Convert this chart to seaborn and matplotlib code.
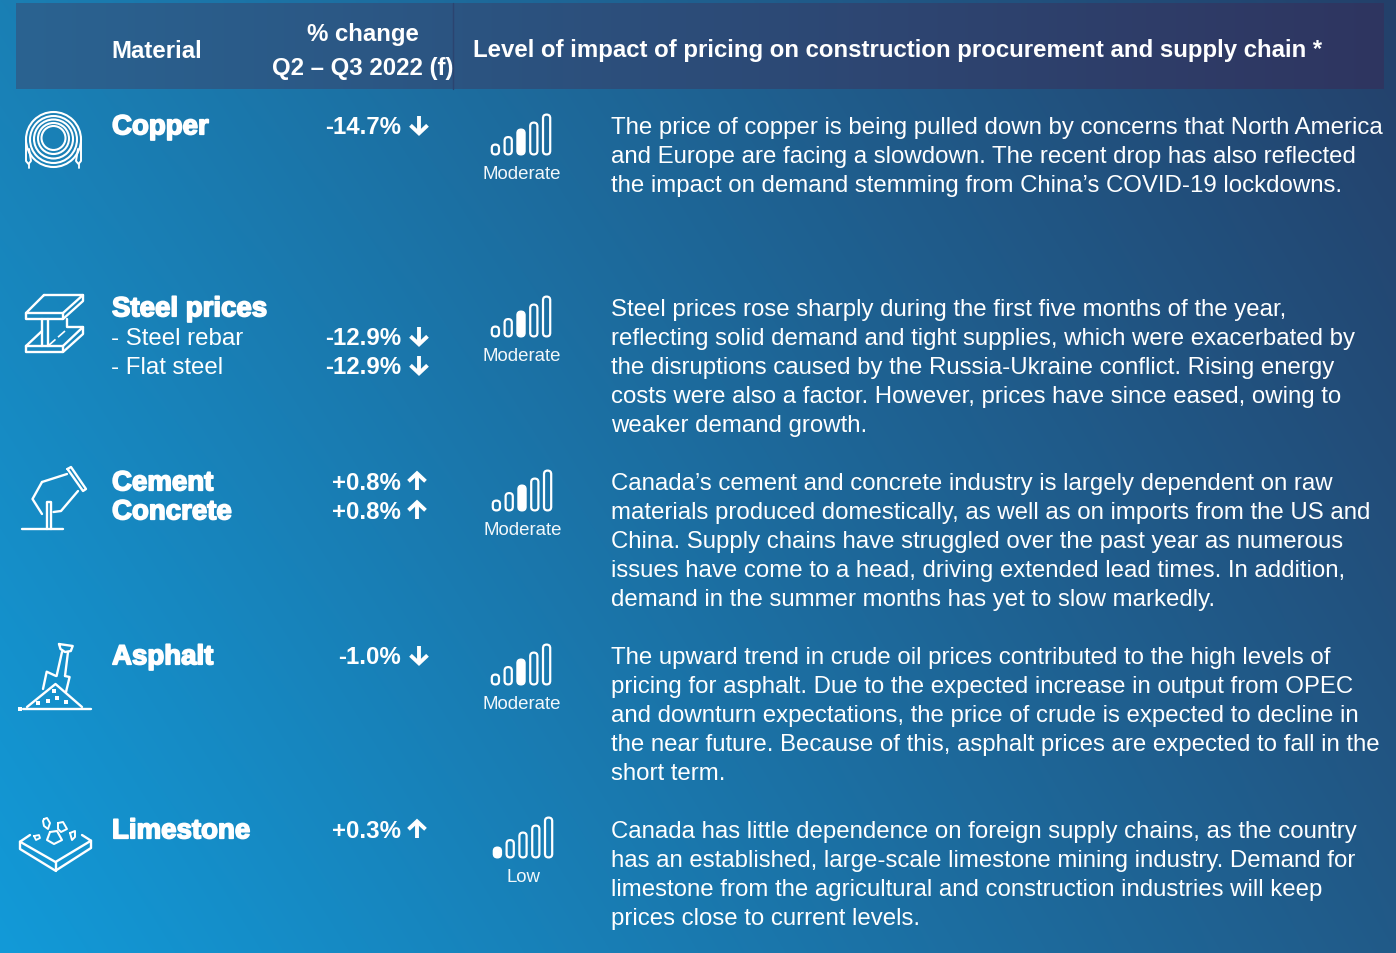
import numpy as np
import pandas as pd
import matplotlib
matplotlib.use("Agg")
import matplotlib.pyplot as plt
import matplotlib.patheffects as pe
from matplotlib.patches import FancyBboxPatch, Ellipse
import seaborn as sns

W, H = 1396, 954

# ---------- data ----------
materials = ["Copper", "Steel prices", "Cement\nConcrete", "Asphalt", "Limestone"]
sub_materials = ["- Steel rebar", "- Flat steel"]
pct_labels = [["-14.7%"], ["-12.9%", "-12.9%"], ["+0.8%", "+0.8%"], ["-1.0%"], ["+0.3%"]]
impact_labels = ["Moderate", "Moderate", "Moderate", "Moderate", "Low"]
filled_bar = [2, 2, 2, 2, 0]
signal_heights = [11, 18.5, 26, 33, 41]
descriptions = [
    ["The price of copper is being pulled down by concerns that North America",
     "and Europe are facing a slowdown. The recent drop has also reflected",
     "the impact on demand stemming from China\u2019s COVID-19 lockdowns."],
    ["Steel prices rose sharply during the first five months of the year,",
     "reflecting solid demand and tight supplies, which were exacerbated by",
     "the disruptions caused by the Russia-Ukraine conflict. Rising energy",
     "costs were also a factor. However, prices have since eased, owing to",
     "weaker demand growth."],
    ["Canada\u2019s cement and concrete industry is largely dependent on raw",
     "materials produced domestically, as well as on imports from the US and",
     "China. Supply chains have struggled over the past year as numerous",
     "issues have come to a head, driving extended lead times. In addition,",
     "demand in the summer months has yet to slow markedly."],
    ["The upward trend in crude oil prices contributed to the high levels of",
     "pricing for asphalt. Due to the expected increase in output from OPEC",
     "and downturn expectations, the price of crude is expected to decline in",
     "the near future. Because of this, asphalt prices are expected to fall in the",
     "short term."],
    ["Canada has little dependence on foreign supply chains, as the country",
     "has an established, large-scale limestone mining industry. Demand for",
     "limestone from the agricultural and construction industries will keep",
     "prices close to current levels."],
]
row_tops = [125.3, 307.3, 481.3, 655.3, 829.3]
signal_x = [521, 521, 522, 521, 523]
signal_bottom = [156, 338, 512, 686, 859]

sns.set_theme(style="white")
plt.rcParams["font.family"] = ["Liberation Sans", "DejaVu Sans"]

fig = plt.figure(figsize=(W / 100, H / 100), dpi=100)
ax = fig.add_axes([0, 0, 1, 1])
ax.set_xlim(0, W)
ax.set_ylim(H, 0)
ax.axis("off")


def corner_gradient(tl, tr, bl, br, nx=1400, ny=400):
    tl, tr, bl, br = [np.array(matplotlib.colors.to_rgba(c)) for c in (tl, tr, bl, br)]
    u = np.linspace(0, 1, nx)[None, :, None]
    v = np.linspace(0, 1, ny)[:, None, None]
    return (1 - v) * ((1 - u) * tl + u * tr) + v * ((1 - u) * bl + u * br)


# background and header band
ax.imshow(corner_gradient("#1a7fb4", "#24406a", "#129ad8", "#215a88"),
          extent=(0, W, H, 0), aspect="auto", zorder=0, interpolation="bilinear")
ax.imshow(corner_gradient("#2a6391", "#2f3560", "#2a6391", "#2f3560"),
          extent=(16, 1384, 90, 4), aspect="auto", zorder=1)
ax.set_xlim(0, W)
ax.set_ylim(H, 0)
ax.plot([453, 453], [4, 90], color="#2b4470", lw=1, zorder=2)

BODY = 17.3
bold_fx = [pe.withStroke(linewidth=1.2, foreground="white")]


def txt(x, y, s, size=BODY, weight="normal", ha="left", **kw):
    return ax.text(x, y, s, color="white", fontsize=size, fontweight=weight,
                   ha=ha, va="center_baseline", zorder=5, **kw)


# header
txt(111, 48.5, "Material", BODY, "bold")
txt(363, 31.5, "% change", BODY, "bold", ha="center")
txt(363, 66.5, "Q2 \u2013 Q3 2022 (f)", BODY, "bold", ha="center")
txt(473, 48.5, "Level of impact of pricing on construction procurement and supply chain *",
    BODY, "bold")


def arrow(x, y, up):
    # small block arrow next to the change figure
    d = -1 if up else 1
    ax.plot([x, x], [y - 8.5 * d, y + 8.5 * d], color="white", lw=2.8, zorder=5,
            solid_capstyle="butt")
    ax.plot([x - 8.5, x, x + 8.5], [y + 0.5 * d, y + 8.5 * d, y + 0.5 * d], color="white",
            lw=2.8, zorder=5, solid_joinstyle="miter", solid_capstyle="butt")


def signal(row):
    # bars laid out by seaborn on a small axes, then given rounded ends
    frame = pd.DataFrame({"bar": list(range(5)), "height": signal_heights})
    cx, bottom = signal_x[row], signal_bottom[row]
    left, right = cx - 32, cx + 32
    sub = fig.add_axes([left / W, 1 - bottom / H, (right - left) / W, 41 / H], zorder=4)
    sub.patch.set_alpha(0)
    sns.barplot(data=frame, x="bar", y="height", ax=sub, width=0.6, color="white")
    sub.set_ylim(0, 41)
    sub.set_xlim(-0.5, 4.5)
    sub.axis("off")
    for i, b in enumerate(list(sub.patches)):
        x0, w, h = b.get_x(), b.get_width(), b.get_height()
        b.set_visible(False)
        # convert data units to pixels so the corners stay round
        px = (right - left) / 5
        xp = left + (x0 + 0.5) * px
        wp = w * px
        pad = wp / 2 - 0.3
        fill = "white" if i == filled_bar[row] else "none"
        ax.add_patch(FancyBboxPatch((xp + wp / 2 - 0.05, bottom - h + pad + 0.6),
                                    0.1, max(h - 2 * pad - 1.2, 0.1),
                                    boxstyle=f"round,pad={pad},rounding_size={pad}",
                                    fc=fill, ec="white", lw=1.6, zorder=5))
    txt(cx + 1, bottom + 16.5, impact_labels[row], 13.45, ha="center", alpha=0.95)


# rows
for r, top in enumerate(row_tops):
    names = materials[r].split("\n")
    for i, name in enumerate(names):
        t = txt(112, top + i * 29, name, 19.9, "bold")
        t.set_path_effects(bold_fx)
    if r == 1:
        for i, name in enumerate(sub_materials):
            txt(111, top + 29 + i * 29, name)
    offs = [29, 58] if r == 1 else [0, 29]
    for lab, off in zip(pct_labels[r], offs):
        txt(401, top + off, lab, BODY, "bold", ha="right")
        up = lab.startswith("+")
        arrow(417 if up else 419, top + off + (1.5 if up else 0.5), up)
    signal(r)
    for i, line in enumerate(descriptions[r]):
        txt(611, top + i * 29, line)

# ---------- icons ----------
ICON = dict(color="white", lw=1.7, zorder=5, solid_capstyle="round", solid_joinstyle="round")


def poly(pts, **kw):
    xs, ys = zip(*pts)
    ax.plot(xs, ys, **{**ICON, **kw})


# copper coil
for r, cy in [(27.5, 140.5), (23.5, 140.5), (19.5, 140), (15.5, 139.5), (12, 139)]:
    ax.add_patch(Ellipse((53.5, cy), 2 * r, 2 * r, fc="none", ec="white", lw=1.5, zorder=5))
poly([(26, 140), (26, 162), (28.5, 165), (31, 162), (29, 150)], lw=1.4)
poly([(81, 140), (81, 162), (78.5, 165), (76, 162), (78, 150)], lw=1.4)
poly([(28.5, 165), (28.5, 169)], lw=1.3)
poly([(78.5, 165), (78.5, 169)], lw=1.3)

# steel beam
poly([(44, 296), (83, 296), (63, 314), (26, 314), (44, 296)])
poly([(26, 314), (26, 320), (63, 320), (63, 314)])
poly([(83, 296), (83, 302), (63, 320)])
poly([(42, 320), (42, 347)])
poly([(48, 320), (48, 347)])
poly([(26, 347), (63, 347), (63, 353), (26, 353), (26, 347)])
poly([(26, 347), (42, 332)])
poly([(63, 347), (83, 328), (83, 335), (63, 353)])
poly([(67, 320), (67, 328), (83, 328)])
poly([(48, 347), (65, 332)], lw=1.2, ls=(0, (6, 2)))

# cement pour
poly([(42, 483), (32.5, 500), (42, 515)])
poly([(42, 483), (67, 475)])
poly([(67.5, 470), (71, 468), (86, 490), (83, 492), (67.5, 470)])
poly([(78, 492), (61, 512), (53.5, 513)])
poly([(47, 530), (47, 503), (50.5, 503), (50.5, 530)])
poly([(22, 529.5), (63, 529.5)])

# asphalt shovel + pile
poly([(23, 709.5), (91, 709.5)])
poly([(27, 708), (55.5, 685), (82, 708)])
poly([(43, 690), (46.7, 672.7), (56, 677)])
poly([(65, 677), (69.6, 678), (66, 693)])
poly([(56.6, 677), (62, 653)])
poly([(65, 677), (68, 653)])
poly([(59, 645), (72.7, 647), (70.8, 652), (65, 653), (60.5, 650), (59, 645)])
for dx, dy in [(20, 709.5), (38, 704), (48, 702), (57.4, 699), (53.6, 692), (66, 703)]:
    ax.plot(dx, dy, marker="s", ms=2.2, mew=0, color="white", zorder=5)

# limestone slab
poly([(30, 836), (20, 842.7), (55.5, 863), (91, 841.7), (82, 836)])
poly([(20, 842.7), (20, 850), (55.5, 871.7), (91, 849), (91, 841.7)])
poly([(55.5, 863), (55.5, 871.7)])
poly([(44, 820), (47, 819), (50, 824), (48, 830), (44, 827), (43, 822), (44, 820)], lw=1.4)
poly([(58, 824), (63, 823), (67, 830), (61, 833), (58, 830), (58, 824)], lw=1.4)
poly([(50, 833), (57, 832), (62, 841), (54, 845), (47, 841), (50, 833)], lw=1.5)
poly([(70, 834), (75, 832), (75, 838), (72, 841), (70, 834)], lw=1.4)
poly([(34, 837), (39, 836), (40, 839), (36, 841), (34, 837)], lw=1.3)

plt.savefig("out.png", dpi=100, facecolor="#1a7fb4")
plt.close("all")
